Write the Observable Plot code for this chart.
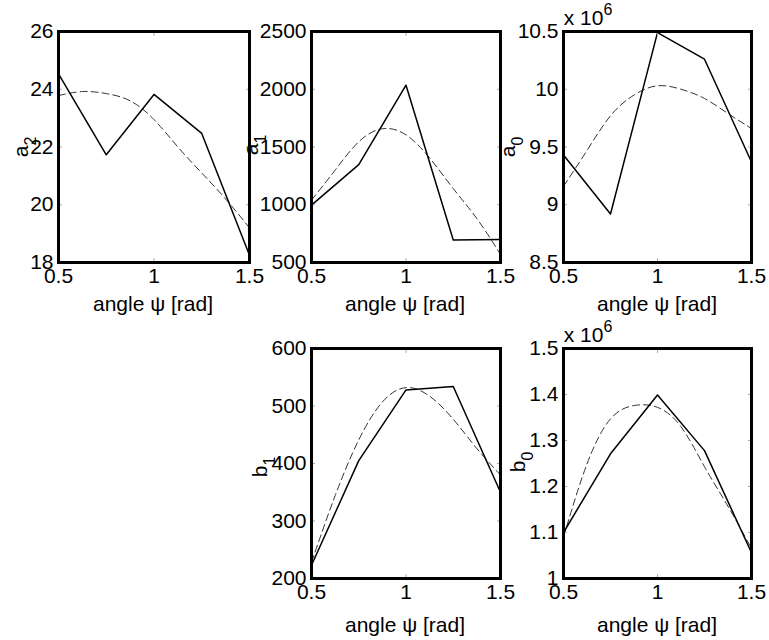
<!DOCTYPE html>
<html><head><meta charset="utf-8">
<script src="https://cdn.jsdelivr.net/npm/d3@7"></script>
<script src="https://cdn.jsdelivr.net/npm/@observablehq/plot@0.6"></script>
<style>
body{margin:0;background:#fff;}
#c{position:relative;width:769px;height:640px;overflow:hidden;font-family:"Liberation Sans",Arial,sans-serif;color:#000;}
.lab{position:absolute;font-size:21px;white-space:nowrap;line-height:1;transform:translate(-50%,-50%);}
.ylab{transform:translate(-50%,-50%) rotate(-90deg);}
.sub{font-size:16px;position:relative;top:8px;}
.sup{font-size:16px;position:relative;top:-10px;}
#c svg{position:absolute;}
</style></head><body><div id="c"></div>
<script>
// angle psi [rad]
const psi = [0.5, 0.75, 1.0, 1.25, 1.5];
const psiFit = [0.5, 0.625, 0.75, 0.875, 1.0, 1.125, 1.25, 1.375, 1.5];
const xTicks = [0.5, 1, 1.5];

// measured (solid) and fitted (dashed) coefficients
const a2 = [24.53, 21.73, 23.82, 22.47, 18.25];
const a2Fit = [23.78, 23.92, 23.85, 23.6, 22.95, 22.0, 21.1, 20.2, 19.2];
const a1 = [997, 1347, 2035, 695, 700];
const a1Fit = [1040, 1300, 1545, 1658, 1605, 1405, 1140, 880, 570];
const a0 = [9.43e6, 8.92e6, 10.49e6, 10.26e6, 9.37e6];
const a0Fit = [9.16e6, 9.47e6, 9.77e6, 9.95e6, 10.03e6, 10.0e6, 9.92e6, 9.79e6, 9.66e6];
const b1 = [223, 405, 528, 534, 350];
const b1Fit = [228, 344, 441, 507, 532, 517, 477, 426, 380];
const b0 = [1.100e6, 1.271e6, 1.399e6, 1.278e6, 1.056e6];
const b0Fit = [1.09e6, 1.249e6, 1.347e6, 1.376e6, 1.372e6, 1.33e6, 1.243e6, 1.157e6, 1.065e6];

// y tick labels
const a2Ticks = [18, 20, 22, 24, 26];
const a1Ticks = [500, 1000, 1500, 2000, 2500];
const a0Ticks = [8.5e6, 9e6, 9.5e6, 10e6, 10.5e6];
const b1Ticks = [200, 300, 400, 500, 600];
const b0Ticks = [1.0e6, 1.1e6, 1.2e6, 1.3e6, 1.4e6, 1.5e6];

const c = document.getElementById("c");
const FONT = "Liberation Sans, Arial, sans-serif";

function panel({left, top, w, h, yTicks, yFmt, solid, fit}) {
  const ML = 60, MR = 12, MT = 12, MB = 30;
  const sData = psi.map((x, i) => ({x, y: solid[i]}));
  const fData = psiFit.map((x, i) => ({x, y: fit[i]}));
  const svg = Plot.plot({
    width: ML + w + MR, height: MT + h + MB,
    marginLeft: ML, marginRight: MR, marginTop: MT, marginBottom: MB,
    style: {background: "transparent", overflow: "visible", fontSize: "21px", fontFamily: FONT, color: "#000"},
    x: {domain: [0.5, 1.5]},
    y: {domain: [yTicks[0], yTicks[yTicks.length - 1]]},
    marks: [
      Plot.line(fData, {x: "x", y: "y", curve: "natural", stroke: "#333", strokeWidth: 1, strokeDasharray: "7,4"}),
      Plot.line(sData, {x: "x", y: "y", stroke: "#000", strokeWidth: 1.5}),
      Plot.axisX(xTicks, {anchor: "bottom", tickSize: -4, tickPadding: 10, stroke: "#aaa", tickFormat: d => String(d), label: null}),
      Plot.axisX(xTicks, {anchor: "top", tickSize: -4, stroke: "#aaa", tickFormat: () => "", label: null}),
      Plot.axisY(yTicks, {anchor: "left", tickSize: -4, tickPadding: 9, stroke: "#aaa", tickFormat: yFmt, label: null}),
      Plot.axisY(yTicks, {anchor: "right", tickSize: -4, stroke: "#aaa", tickFormat: () => "", label: null}),
      Plot.frame({stroke: "#000", strokeWidth: 3})
    ]
  });
  svg.style.left = (left - ML) + "px";
  svg.style.top = (top - MT) + "px";
  c.appendChild(svg);
}

const plain = d => String(d);
const mega = d => String(+(d / 1e6).toFixed(2));

panel({left: 58, top: 31, w: 191, h: 231, yTicks: a2Ticks, yFmt: plain, solid: a2, fit: a2Fit});
panel({left: 311, top: 31, w: 189, h: 231, yTicks: a1Ticks, yFmt: plain, solid: a1, fit: a1Fit});
panel({left: 563, top: 31, w: 188, h: 231, yTicks: a0Ticks, yFmt: mega, solid: a0, fit: a0Fit});
panel({left: 311, top: 348, w: 189, h: 230, yTicks: b1Ticks, yFmt: plain, solid: b1, fit: b1Fit});
panel({left: 563, top: 348, w: 188, h: 230, yTicks: b0Ticks, yFmt: mega, solid: b0, fit: b0Fit});

function label(html, x, y, cls) {
  const d = document.createElement("div");
  d.className = "lab" + (cls ? " " + cls : "");
  d.innerHTML = html;
  d.style.left = x + "px";
  d.style.top = y + "px";
  c.appendChild(d);
}
const xl = "angle \u03C8 [rad]";
label(xl, 153, 303); label(xl, 405, 303); label(xl, 657, 303);
label(xl, 405, 624); label(xl, 657, 624);
label('a<span class="sub">2</span>', 20, 147, "ylab");
label('a<span class="sub">1</span>', 250, 145, "ylab");
label('a<span class="sub">0</span>', 507, 147, "ylab");
label('b<span class="sub">1</span>', 259, 467, "ylab");
label('b<span class="sub">0</span>', 517, 462, "ylab");
label('x 10<span class="sup">6</span>', 588, 17);
label('x 10<span class="sup">6</span>', 588, 334);
</script></body></html>
